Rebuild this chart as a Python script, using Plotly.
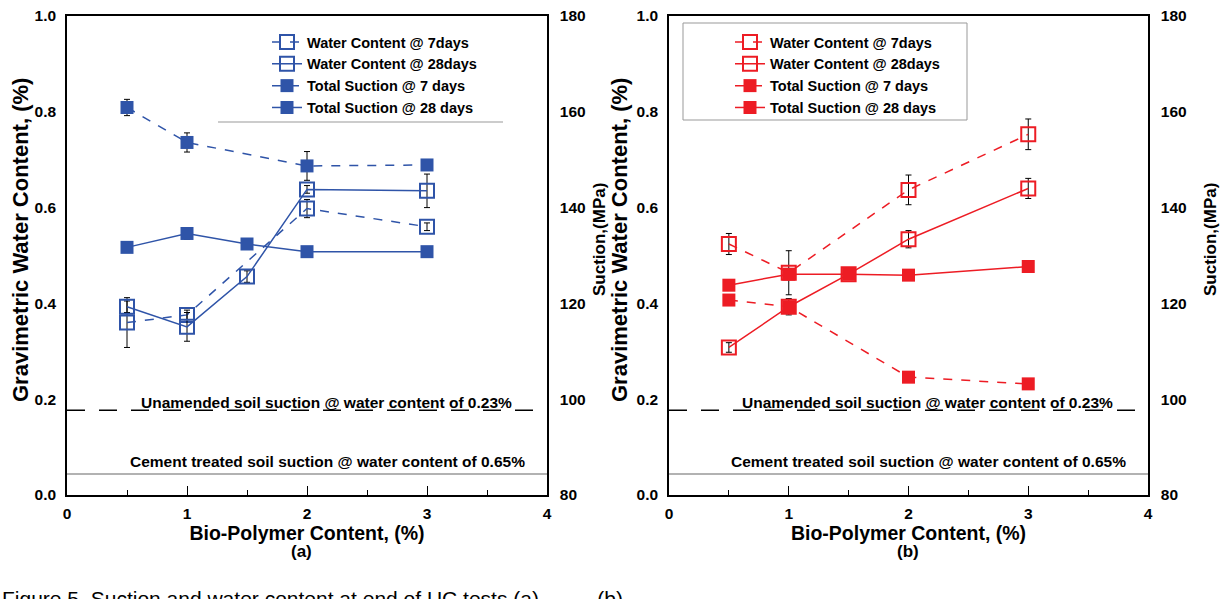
import plotly.graph_objects as go

# ---------------- data ----------------
# Panel (a)
a_wc7_x = [0.5, 1, 2, 3]
a_wc7_y = [0.360, 0.376, 0.598, 0.560]
a_wc7_e = [0.052, 0.010, 0.019, 0.008]
a_wc28_x = [0.5, 1, 1.5, 2, 3]
a_wc28_y = [0.393, 0.351, 0.456, 0.638, 0.635]
a_wc28_e = [0.012, 0.030, 0.012, 0.008, 0.035]
a_s7_x = [0.5, 1, 2, 3]
a_s7_y = [160.9, 153.6, 148.7, 148.9]
a_s7_e = [1.7, 2.0, 3.0, 0.5]
a_s28_x = [0.5, 1, 1.5, 2, 3]
a_s28_y = [131.7, 134.6, 132.4, 130.8, 130.8]
a_s28_e = [1.0, 1.2, 0.7, 0.8, 0.3]

# Panel (b)
b_wc7_x = [0.5, 1, 2, 3]
b_wc7_y = [0.524, 0.464, 0.637, 0.753]
b_wc7_e = [0.022, 0.046, 0.031, 0.032]
b_wc28_x = [0.5, 1, 1.5, 2, 3]
b_wc28_y = [0.308, 0.393, 0.461, 0.534, 0.640]
b_wc28_e = [0.010, 0.017, 0.010, 0.018, 0.021]
b_s7_x = [0.5, 1, 2, 3]
b_s7_y = [120.7, 119.3, 104.6, 103.2]
b_s7_e = [0.8, 0.8, 0.4, 0.9]
b_s28_x = [0.5, 1, 1.5, 2, 3]
b_s28_y = [123.8, 126.1, 126.1, 125.9, 127.7]
b_s28_e = [0.6, 0.6, 0.6, 0.5, 0.8]

# reference lines (suction, MPa)
ref_unamended = 97.7
ref_cement = 84.4
ref_unamended_label = "Unamended soil suction @ water content of 0.23%"
ref_cement_label = "Cement treated soil suction @ water content of 0.65%"

series_names = ["Water Content @ 7days", "Water Content @ 28days",
                "Total Suction @ 7 days", "Total Suction @ 28 days"]
x_ticks = [0, 1, 2, 3, 4]
wc_ticks = [0.0, 0.2, 0.4, 0.6, 0.8, 1.0]
suction_ticks = [80, 100, 120, 140, 160, 180]

BLUE = "#2F54A8"
RED = "#ED1C24"
FONT = "Liberation Sans"

fig = go.Figure()


def add_panel(xa, ya, ya2, legend, color, data):
    (wc7x, wc7y, wc7e), (wc28x, wc28y, wc28e), (s7x, s7y, s7e), (s28x, s28y, s28e) = data
    err = dict(type="data", color="black", thickness=1, width=3)
    fig.add_trace(go.Scatter(
        x=wc7x, y=wc7y, xaxis=xa, yaxis=ya, legend=legend, name=series_names[0],
        mode="lines+markers", line=dict(color=color, width=1.5, dash="dash"),
        marker=dict(symbol="square-open", size=14, color=color, line=dict(width=2)),
        error_y=dict(array=wc7e, **err)))
    fig.add_trace(go.Scatter(
        x=wc28x, y=wc28y, xaxis=xa, yaxis=ya, legend=legend, name=series_names[1],
        mode="lines+markers", line=dict(color=color, width=1.5),
        marker=dict(symbol="square-open", size=14, color=color, line=dict(width=2)),
        error_y=dict(array=wc28e, **err)))
    fig.add_trace(go.Scatter(
        x=s7x, y=s7y, xaxis=xa, yaxis=ya2, legend=legend, name=series_names[2],
        mode="lines+markers", line=dict(color=color, width=1.5, dash="dash"),
        marker=dict(symbol="square", size=13, color=color),
        error_y=dict(array=s7e, **err)))
    fig.add_trace(go.Scatter(
        x=s28x, y=s28y, xaxis=xa, yaxis=ya2, legend=legend, name=series_names[3],
        mode="lines+markers", line=dict(color=color, width=1.5),
        marker=dict(symbol="square", size=13, color=color),
        error_y=dict(array=s28e, **err)))


add_panel("x", "y", "y2", "legend", BLUE,
          [(a_wc7_x, a_wc7_y, a_wc7_e), (a_wc28_x, a_wc28_y, a_wc28_e),
           (a_s7_x, a_s7_y, a_s7_e), (a_s28_x, a_s28_y, a_s28_e)])
add_panel("x2", "y3", "y4", "legend2", RED,
          [(b_wc7_x, b_wc7_y, b_wc7_e), (b_wc28_x, b_wc28_y, b_wc28_e),
           (b_s7_x, b_s7_y, b_s7_e), (b_s28_x, b_s28_y, b_s28_e)])

W, H = 1227, 599


def px(p):
    return p / W


def py(p):
    return (H - p) / H


dom_a = [px(67), px(547)]
dom_b = [px(669), px(1148)]
dom_y = [py(495), py(16)]

tickfont = dict(family=FONT, size=15.5, color="black", weight="bold")


def xax(dom, anchor):
    return dict(domain=dom, anchor=anchor, range=[0, 4], tickvals=x_ticks, automargin=False,
                ticks="inside", ticklen=9, tickwidth=1, tickcolor="black",
                minor=dict(dtick=0.5, ticks="inside", ticklen=5, tickcolor="black"),
                showline=True, linecolor="black", linewidth=1.5, mirror=True,
                showgrid=False, zeroline=False, tickfont=tickfont, ticklabelstandoff=4,
                title=dict(text="Bio-Polymer Content, (%)", standoff=5,
                           font=dict(family=FONT, size=19.5, color="black", weight="bold")))


def yax_wc(dom, anchor):
    return dict(domain=dom, anchor=anchor, range=[0, 1], tickvals=wc_ticks, tickformat=".1f",
                showline=True, linecolor="black", linewidth=1.5, showgrid=False, automargin=False,
                zeroline=False, tickfont=tickfont, ticks="", ticklabelstandoff=6,
                ticklabeloverflow="allow")


def yax_s(anchor, overlay):
    return dict(overlaying=overlay, anchor=anchor, side="right", range=[80, 180], automargin=False,
                tickvals=suction_ticks, showline=True, linecolor="black", linewidth=1.5,
                showgrid=False, zeroline=False, tickfont=tickfont, ticks="", ticklabelstandoff=8,
                ticklabeloverflow="allow")


legend_common = dict(font=dict(family=FONT, size=14.5, color="black", weight="bold"),
                     bgcolor="rgba(0,0,0,0)", borderwidth=0, xanchor="left",
                     yanchor="top", tracegroupgap=0, itemwidth=30)

fig.update_layout(
    width=W, height=H, margin=dict(l=0, r=0, t=0, b=0, autoexpand=False),
    paper_bgcolor="white", plot_bgcolor="white", showlegend=True,
    xaxis=xax(dom_a, "y"), yaxis=yax_wc(dom_y, "x"), yaxis2=yax_s("x", "y"),
    xaxis2=xax(dom_b, "y3"), yaxis3=yax_wc(dom_y, "x2"), yaxis4=yax_s("x2", "y3"),
    legend=dict(x=px(267), y=py(26), **legend_common),
    legend2=dict(x=px(730), y=py(26), **legend_common),
)

# y-axis titles as rotated annotations
ytitles = [(21, "Gravimetric Water Content, (%)", 22), (600, "Suction,(MPa)", 17),
           (620, "Gravimetric Water Content, (%)", 22), (1211, "Suction,(MPa)", 17)]
for xp, txt, sz in ytitles:
    fig.add_annotation(xref="paper", yref="paper", x=px(xp), y=py(240), text=txt,
                       textangle=-90, showarrow=False, xanchor="center", yanchor="middle",
                       font=dict(family=FONT, size=sz, color="black", weight="bold"))

# reference lines and labels
for xa, ya2 in (("x", "y2"), ("x2", "y4")):
    fig.add_shape(type="line", xref=xa + " domain", yref=ya2, x0=0, x1=1,
                  y0=ref_unamended, y1=ref_unamended,
                  line=dict(color="black", width=1.5, dash="18px,14px"))
    fig.add_shape(type="line", xref=xa + " domain", yref=ya2, x0=0, x1=1,
                  y0=ref_cement, y1=ref_cement, line=dict(color="#999999", width=1.5))
    fig.add_annotation(xref=xa, yref=ya2, x=2.16, y=ref_unamended, text=ref_unamended_label,
                       showarrow=False, xanchor="center", yanchor="bottom", yshift=-3,
                       font=dict(family=FONT, size=15.5, color="black", weight="bold"))
    fig.add_annotation(xref=xa, yref=ya2, x=2.17, y=ref_cement, text=ref_cement_label,
                       showarrow=False, xanchor="center", yanchor="bottom", yshift=2,
                       font=dict(family=FONT, size=15.5, color="black", weight="bold"))

# legend frame lines (panel a: bottom rule; panel b: box sides)
fig.add_shape(type="line", xref="paper", yref="paper", x0=px(218), x1=px(503),
              y0=py(122), y1=py(122), line=dict(color="#999999", width=1))
fig.add_shape(type="rect", xref="paper", yref="paper", x0=px(683), x1=px(967),
              y0=py(120), y1=py(23), line=dict(color="#999999", width=1))

# panel letters and caption
fig.add_annotation(xref="paper", yref="paper", x=px(301), y=py(551), text="(a)",
                   xanchor="center", yanchor="middle", showarrow=False,
                   font=dict(family=FONT, size=17, color="black", weight="bold"))
fig.add_annotation(xref="paper", yref="paper", x=px(908), y=py(551), text="(b)",
                   xanchor="center", yanchor="middle", showarrow=False,
                   font=dict(family=FONT, size=17, color="black", weight="bold"))
fig.add_annotation(xref="paper", yref="paper", x=px(0), y=py(598), xanchor="left",
                   yanchor="middle", text="Figure 5. Suction and water content at end of UC tests (a)          (b)",
                   showarrow=False, font=dict(family=FONT, size=21, color="black"))

fig.write_html("out.html", config={"displayModeBar": False},
               post_script="document.body.style.margin='0px';")
